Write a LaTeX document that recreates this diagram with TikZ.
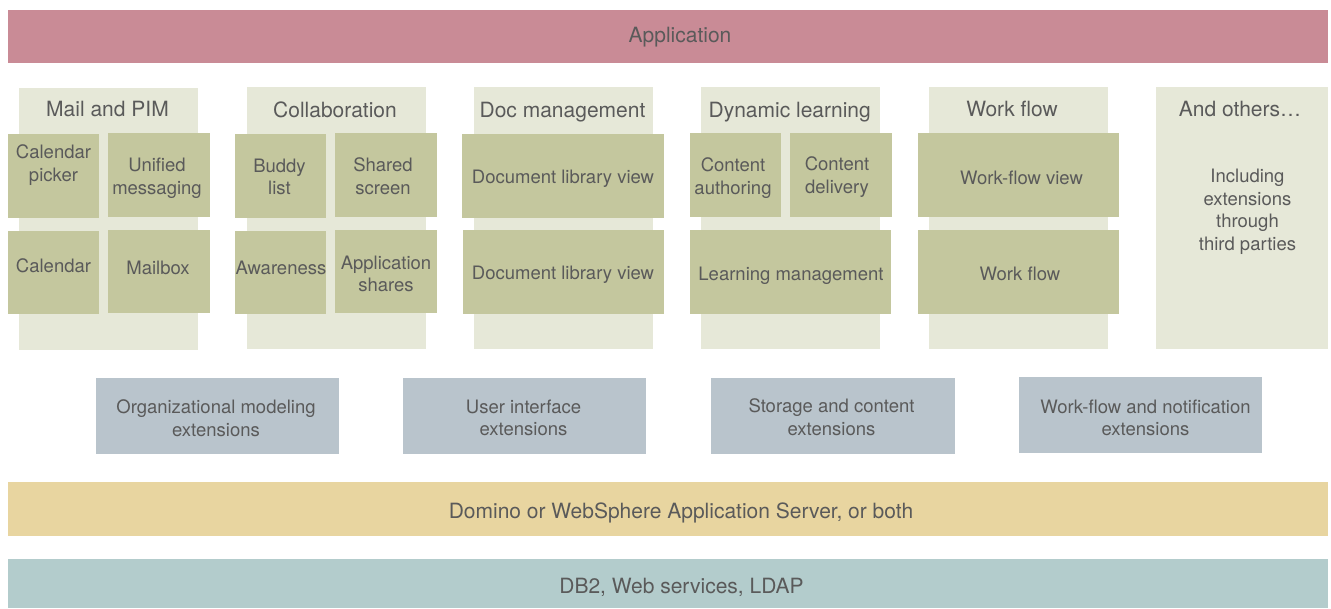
\documentclass[tikz,border=0pt]{standalone}
\usepackage{fontspec}
\setmainfont{TeX Gyre Heros}
\definecolor{appc}{HTML}{C98B96}
\definecolor{colbg}{HTML}{E6E8D8}
\definecolor{olive}{HTML}{C4C79E}
\definecolor{extc}{HTML}{B9C4CC}
\definecolor{yelc}{HTML}{E8D5A0}
\definecolor{tealc}{HTML}{B3CCCC}
\definecolor{txtc}{HTML}{5A5A5A}
\newcommand\rbox[6]{%
  \pgfmathsetmacro\bw{#5-#3}\pgfmathsetmacro\bh{#6-#4}%
  \node[#2, minimum width=\bw pt, minimum height=\bh pt] (#1) at ({(#3+#5)/2},{(#4+#6)/2}) {};}
\tikzset{
  boxbase/.style={inner sep=0pt, outer sep=0pt, draw=none},
  appbar/.style={boxbase, fill=appc},
  colbox/.style={boxbase, fill=colbg},
  inbox/.style={boxbase, fill=olive},
  extbox/.style={boxbase, fill=extc},
  yelbar/.style={boxbase, fill=yelc},
  tealbar/.style={boxbase, fill=tealc},
  bigtxt/.style={text=txtc, font=\fontsize{21}{25}\selectfont, inner sep=0pt},
  smtxt/.style={text=txtc, font=\fontsize{18.5}{22.5}\selectfont, align=center, inner sep=0pt},
}
\begin{document}
\begin{tikzpicture}[x=1pt, y=-1pt]
\useasboundingbox (0,0) rectangle (1331,608);
% top bar
\rbox{app}{appbar}{8}{10}{1328}{63}
\node[bigtxt] (tapp) at (680,37) {Application};
% columns
\rbox{c1}{colbox}{19}{88}{198}{350}
\rbox{c2}{colbox}{247}{87}{426}{349}
\rbox{c3}{colbox}{474}{87}{653}{349}
\rbox{c4}{colbox}{701}{87}{880}{349}
\rbox{c5}{colbox}{929}{87}{1108}{349}
\rbox{c6}{colbox}{1156}{87}{1328}{349}
\node[bigtxt, anchor=base] (h1) at (107.5,116) {Mail and PIM};
\node[bigtxt, anchor=base] (h2) at (335,117) {Collaboration};
\node[bigtxt, anchor=base] (h3) at (562.5,117) {Doc management};
\node[bigtxt, anchor=base] (h4) at (789.7,117) {Dynamic learning};
\node[bigtxt, anchor=base] (h5) at (1012,116) {Work flow};
\node[bigtxt, anchor=base] (h6) at (1240,116) {And others\ldots};
% mail and PIM
\rbox{b11}{inbox}{8}{134}{99}{218}
\rbox{b12}{inbox}{108}{133}{210}{217}
\rbox{b13}{inbox}{8}{231}{99}{314}
\rbox{b14}{inbox}{108}{230}{210}{313}
\node[smtxt] (t11) at (53.5,165) {Calendar\\picker};
\node[smtxt] (t12) at (157,178) {Unified\\messaging};
\node[smtxt] (t13) at (53.5,266) {Calendar};
\node[smtxt] (t14) at (158,267.5) {Mailbox};
% collaboration
\rbox{b21}{inbox}{235}{134}{326}{218}
\rbox{b22}{inbox}{335}{133}{437}{217}
\rbox{b23}{inbox}{235}{231}{326}{314}
\rbox{b24}{inbox}{335}{230}{437}{313}
\node[smtxt] (t21) at (279.5,177) {Buddy\\list};
\node[smtxt] (t22) at (383,176) {Shared\\screen};
\node[smtxt] (t23) at (281,268) {Awareness};
\node[smtxt] (t24) at (386,274) {Application\\shares};
% doc management
\rbox{b31}{inbox}{462}{134}{664}{218}
\rbox{b32}{inbox}{463}{230}{664}{314}
\node[smtxt] (t31) at (563,179) {Document library view};
\node[smtxt] (t32) at (563,274.5) {Document library view};
% dynamic learning
\rbox{b41}{inbox}{690}{133}{781}{217}
\rbox{b42}{inbox}{790}{133}{892}{217}
\rbox{b43}{inbox}{690}{230}{891}{314}
\node[smtxt] (t41) at (733,178) {Content\\authoring};
\node[smtxt] (t42) at (837,177) {Content\\delivery};
\node[smtxt] (t43) at (791,275.5) {Learning management};
% work flow
\rbox{b51}{inbox}{918}{133}{1119}{217}
\rbox{b52}{inbox}{918}{230}{1119}{314}
\node[smtxt] (t51) at (1021.5,177.5) {Work-flow view};
\node[smtxt] (t52) at (1020,274) {Work flow};
% others
\node[smtxt] (t61) at (1247.5,212) {Including\\extensions\\through\\third parties};
% extensions
\rbox{e1}{extbox}{96}{378}{339}{454}
\rbox{e2}{extbox}{403}{378}{646}{454}
\rbox{e3}{extbox}{711}{378}{955}{454}
\rbox{e4}{extbox}{1019}{377}{1262}{453}
\node[smtxt] (te1) at (216,418) {Organizational modeling\\extensions};
\node[smtxt] (te2) at (523.5,418) {User interface\\extensions};
\node[smtxt] (te3) at (831.5,417) {Storage and content\\extensions};
\node[smtxt] (te4) at (1145.5,418) {Work-flow and notification\\extensions};
% bottom bars
\rbox{dom}{yelbar}{8}{482}{1328}{536}
\node[bigtxt] (tdom) at (681,513) {Domino or WebSphere Application Server, or both};
\rbox{db}{tealbar}{8}{559}{1328}{608}
\node[bigtxt] (tdb) at (681.5,587) {DB2, Web services, LDAP};
\end{tikzpicture}
\end{document}
